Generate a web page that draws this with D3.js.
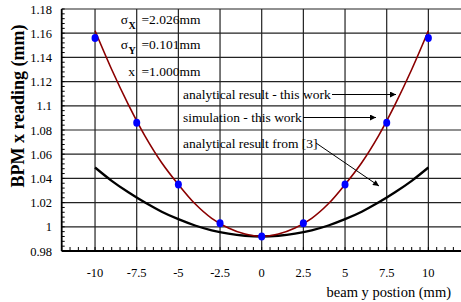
<!DOCTYPE html>
<html>
<head>
<meta charset="utf-8">
<script src="https://cdn.jsdelivr.net/npm/d3@7"></script>
<style>
  body { margin: 0; background: #fff; }
  svg { display: block; font-family: "Liberation Serif", "Times New Roman", serif; }
</style>
</head>
<body>
<svg id="chart"></svg>
<script>
// beam y position (mm) for the curves
var curveX = [-10, -9, -8, -7, -6, -5, -4, -3, -2, -1, 0, 1, 2, 3, 4, 5, 6, 7, 8, 9, 10];
// analytical result - this work (dark red)
var thisWork = [1.162, 1.130, 1.101, 1.075, 1.053, 1.035, 1.019, 1.007, 0.999, 0.994, 0.992,
                0.994, 0.999, 1.007, 1.019, 1.035, 1.053, 1.075, 1.101, 1.130, 1.162];
// analytical result from [3] (black)
var fromRef3 = [1.049, 1.038, 1.0285, 1.020, 1.0125, 1.0063, 1.0011, 0.9971, 0.9943, 0.9926, 0.992,
                0.9926, 0.9943, 0.9971, 1.0011, 1.0063, 1.0125, 1.020, 1.0285, 1.038, 1.049];
// simulation points (blue)
var simX = [-10, -7.5, -5, -2.5, 0, 2.5, 5, 7.5, 10];
var simY = [1.156, 1.086, 1.035, 1.003, 0.992, 1.003, 1.035, 1.086, 1.156];

var xTicks = [-10, -7.5, -5, -2.5, 0, 2.5, 5, 7.5, 10];
var yTicks = [0.98, 1, 1.02, 1.04, 1.06, 1.08, 1.1, 1.12, 1.14, 1.16, 1.18];

var width = 461, height = 302;
var svg = d3.select("#chart").attr("width", width).attr("height", height);

var x = d3.scaleLinear().domain([-12, 12]).range([61.7, 461.7]);
var y = d3.scaleLinear().domain([0.98, 1.18]).range([251, 9]);

// grid
svg.append("g").selectAll("line")
    .data(yTicks.slice(1))
    .join("line")
    .attr("x1", x(-12)).attr("x2", width)
    .attr("y1", d => y(d)).attr("y2", d => y(d))
    .attr("stroke", "#222").attr("stroke-width", 1.2);

svg.append("g").selectAll("line")
    .data(xTicks)
    .join("line")
    .attr("x1", d => x(d)).attr("x2", d => x(d))
    .attr("y1", y(0.98)).attr("y2", y(1.18))
    .attr("stroke", "#222").attr("stroke-width", 1.2);

// minor ticks
var xMinor = d3.range(-24, 25).map(i => i * 0.5);
svg.append("g").selectAll("line")
    .data(xMinor)
    .join("line")
    .attr("x1", d => x(d)).attr("x2", d => x(d))
    .attr("y1", y(0.98)).attr("y2", y(0.98) - 4)
    .attr("stroke", "#000").attr("stroke-width", 1);

var yMinor = d3.range(0, 51).map(i => 0.98 + i * 0.004);
svg.append("g").selectAll("line")
    .data(yMinor)
    .join("line")
    .attr("x1", x(-12)).attr("x2", x(-12) + 3)
    .attr("y1", d => y(d)).attr("y2", d => y(d))
    .attr("stroke", "#000").attr("stroke-width", 1);

// axes lines
svg.append("line")
    .attr("x1", x(-12)).attr("x2", width)
    .attr("y1", y(0.98)).attr("y2", y(0.98))
    .attr("stroke", "#000").attr("stroke-width", 1.8);
svg.append("line")
    .attr("x1", x(-12)).attr("x2", x(-12))
    .attr("y1", y(0.98)).attr("y2", y(1.18))
    .attr("stroke", "#000").attr("stroke-width", 1.8);

// tick labels
svg.append("g").selectAll("text")
    .data(yTicks)
    .join("text")
    .attr("x", 52).attr("y", d => y(d) + 4.5)
    .attr("text-anchor", "end")
    .attr("font-size", 12.5)
    .text(d => d3.format("")(+d.toFixed(2)));

svg.append("g").selectAll("text")
    .data(xTicks)
    .join("text")
    .attr("x", d => x(d)).attr("y", 277)
    .attr("text-anchor", "middle")
    .attr("font-size", 12.5)
    .text(d => d);

// axis titles
svg.append("text")
    .attr("transform", "translate(24,106) rotate(-90)")
    .attr("text-anchor", "middle")
    .attr("font-size", 18).attr("font-weight", "bold")
    .text("BPM x reading (mm)");

svg.append("text")
    .attr("x", 451).attr("y", 297)
    .attr("text-anchor", "end")
    .attr("font-size", 14.5)
    .text("beam y postion (mm)");

// curves
var line = d3.line()
    .x((d, i) => x(curveX[i]))
    .y(d => y(d))
    .curve(d3.curveCatmullRom);

svg.append("path")
    .attr("d", line(fromRef3))
    .attr("fill", "none").attr("stroke", "#000").attr("stroke-width", 2.3);

svg.append("path")
    .attr("d", line(thisWork))
    .attr("fill", "none").attr("stroke", "#8b0000").attr("stroke-width", 1.6);

svg.append("g").selectAll("ellipse")
    .data(simY)
    .join("ellipse")
    .attr("cx", (d, i) => x(simX[i])).attr("cy", d => y(d))
    .attr("rx", 3.5).attr("ry", 4)
    .attr("fill", "#0000ff");

// parameter annotations
var params = [
  {sym: "σ", sub: "X", val: "=2.026mm", yb: 24},
  {sym: "σ", sub: "Y", val: "=0.101mm", yb: 49},
  {sym: "x", sub: "", val: "=1.000mm", yb: 76}
];
var pg = svg.append("g").attr("font-size", 13.5);
params.forEach(p => {
  var t = pg.append("text").attr("x", 141.5).attr("y", p.yb).text(p.val);
  if (p.sub) {
    pg.append("text").attr("x", 128).attr("y", p.yb).attr("text-anchor", "end").text(p.sym);
    pg.append("text").attr("x", 128.5).attr("y", p.yb + 5).attr("font-size", 10)
      .attr("font-weight", "bold").text(p.sub);
  } else {
    pg.append("text").attr("x", 135).attr("y", p.yb).attr("text-anchor", "end").text(p.sym);
  }
});

// legend labels with arrows
var defs = svg.append("defs");
defs.append("marker")
    .attr("id", "arrow")
    .attr("viewBox", "0 0 10 10")
    .attr("refX", 10).attr("refY", 5)
    .attr("markerWidth", 8).attr("markerHeight", 6)
    .attr("markerUnits", "userSpaceOnUse")
    .attr("orient", "auto")
    .append("path").attr("d", "M0,0L10,5L0,10Z").attr("fill", "#000");

var notes = [
  {label: "analytical result - this work", yb: 99, x1: 332, y1: 94.5, x2: 396, y2: 94.5},
  {label: "simulation - this work", yb: 122, x1: 303, y1: 117.5, x2: 376, y2: 117.5},
  {label: "analytical result from [3]", yb: 148, x1: 316, y1: 143, x2: 379, y2: 186}
];
var ng = svg.append("g");
ng.selectAll("text")
    .data(notes)
    .join("text")
    .attr("x", 183).attr("y", d => d.yb)
    .attr("font-size", 13.5)
    .text(d => d.label);
ng.selectAll("line")
    .data(notes)
    .join("line")
    .attr("x1", d => d.x1).attr("y1", d => d.y1)
    .attr("x2", d => d.x2).attr("y2", d => d.y2)
    .attr("stroke", "#000").attr("stroke-width", 1)
    .attr("marker-end", "url(#arrow)");
</script>
</body>
</html>
